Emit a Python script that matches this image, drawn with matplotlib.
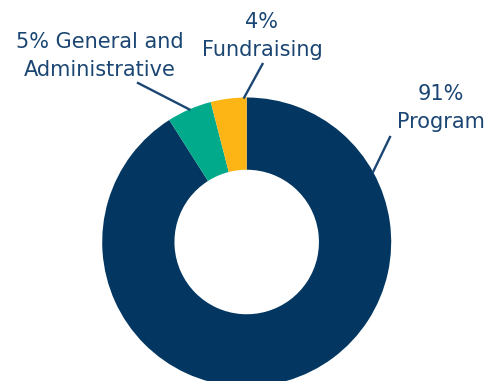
import numpy as np
import matplotlib.pyplot as plt

categories = ["Program", "General and Administrative", "Fundraising"]
shares = [91, 5, 4]
colors = ["#033761", "#00AA8B", "#FDB515"]
text_color = "#1B4673"

W, H = 500, 381
fig = plt.figure(figsize=(W / 100, H / 100), dpi=100)
ax = fig.add_axes([0, 0, 1, 1])

cx, cy, r = 246.7, H - 242, 144.5
wedges, _ = ax.pie(shares, colors=colors, startangle=90, counterclock=False,
                   center=(cx, cy), radius=r,
                   wedgeprops=dict(width=r * 0.5, linewidth=0),
                   frame=True)
ax.set_xlim(0, W)
ax.set_ylim(0, H)
ax.set_aspect("equal")
ax.axis("off")

font = dict(family="DejaVu Sans", fontsize=15, color=text_color,
            ha="center", va="center", linespacing=1.5)

def edge_point(angle_deg):
    a = np.deg2rad(angle_deg)
    return cx + r * np.cos(a), cy + r * np.sin(a)

# Program
p0 = edge_point(29)
ax.plot([p0[0], 390], [p0[1], H - 137], color=text_color, lw=1.7)
ax.text(441, H - 108, f"{shares[0]}%\n{categories[0]}", **font)

# General and Administrative
w = wedges[1]
mid = (w.theta1 + w.theta2) / 2
p1 = edge_point(mid)
ax.plot([p1[0], 138], [p1[1], H - 83], color=text_color, lw=1.7)
ax.text(100, H - 55.5, f"{shares[1]}% General and\nAdministrative", **font)

# Fundraising
p2 = edge_point(91)
ax.plot([p2[0], 262.5], [p2[1], H - 64], color=text_color, lw=1.7)
ax.text(262, H - 36, f"{shares[2]}%\n{categories[2]}", **font)

fig.savefig("out.png", dpi=100)
